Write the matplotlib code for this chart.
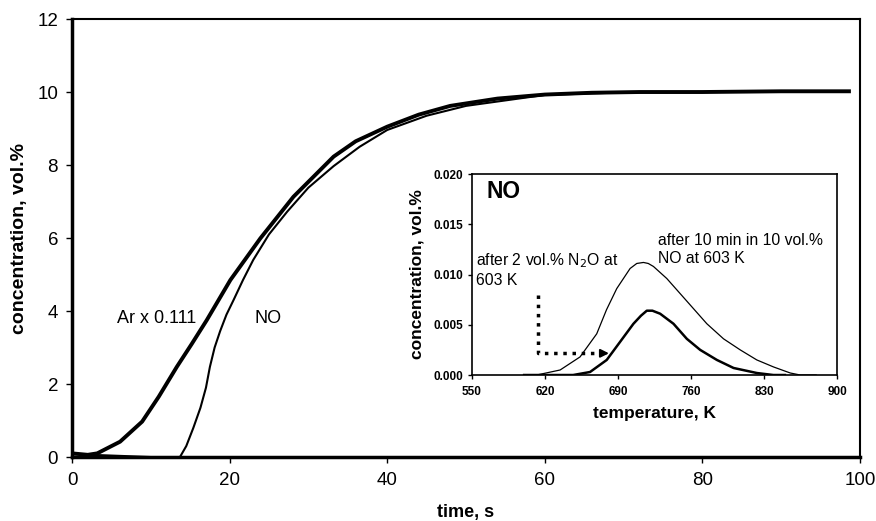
import numpy as np
import matplotlib
matplotlib.use("Agg")
import matplotlib.pyplot as plt

plt.rcParams['font.family'] = ['Liberation Sans', 'DejaVu Sans']

# main plot: time (s) vs concentration (vol.%)
ar_t = [0, 2, 3.2, 6.1, 8.9, 11, 13.3, 15.2, 17.1, 20.1, 23.9, 28.1, 33.2, 36, 40, 44, 48, 54, 60, 66, 72, 80, 90, 98.6]
ar_c = [0.1, 0.06, 0.1, 0.42, 0.97, 1.65, 2.47, 3.1, 3.75, 4.85, 5.99, 7.13, 8.23, 8.65, 9.05, 9.38, 9.62, 9.82, 9.93, 9.98, 10.0, 10.0, 10.02, 10.02]

no_t = [0, 5, 10, 13.7, 14.5, 15.4, 16.3, 17.0, 17.5, 18.1, 18.8, 19.6, 20.5, 21.7, 23.0, 25.0, 27.3, 30.0, 33.2, 36.5, 40, 45, 50, 60, 70, 80, 90, 98.6]
no_c = [0.08, 0.04, 0.0, 0.0, 0.3, 0.8, 1.35, 1.9, 2.47, 3.0, 3.45, 3.9, 4.3, 4.85, 5.4, 6.1, 6.72, 7.38, 7.97, 8.5, 8.96, 9.35, 9.62, 9.92, 9.99, 10.0, 10.02, 10.02]

# inset: TPD of NO
t1 = [600, 612, 634.5, 653.6, 669.6, 679, 688.8, 701.6, 708, 714.4, 719, 724, 736.8, 749.6, 762.4, 775.2, 791.2, 807.2, 823.1, 839.2, 855.2, 864.8, 880]
c1 = [0, 0, 0.0005, 0.0018, 0.0041, 0.0065, 0.0086, 0.0106, 0.0111, 0.0112, 0.0111, 0.0108, 0.0096, 0.0081, 0.0066, 0.0051, 0.0036, 0.0025, 0.0015, 0.0008, 0.0002, 0, 0]

t2 = [600, 647, 663.2, 679.2, 692, 704.8, 712, 717.6, 723, 730.4, 743.2, 756, 768.8, 784.8, 800.8, 823.1, 839, 850]
c2 = [0, 0, 0.0003, 0.0015, 0.0033, 0.0051, 0.0059, 0.0064, 0.0064, 0.0061, 0.0051, 0.0036, 0.0025, 0.0015, 0.0007, 0.0002, 0, 0]

fig = plt.figure(figsize=(8.76, 5.21), dpi=100)
ax = fig.add_axes([0.0822, 0.1228, 0.8995, 0.8407])
ax.plot(ar_t, ar_c, color='black', lw=2.8)
ax.plot(no_t, no_c, color='black', lw=1.5)
ax.set_xlim(0, 100)
ax.set_ylim(0, 12)
ax.set_xticks([0, 20, 40, 60, 80, 100])
ax.set_yticks([0, 2, 4, 6, 8, 10, 12])
ax.tick_params(labelsize=13.5, length=4, width=1, direction='out')
ax.tick_params(axis='x', pad=7)
ax.tick_params(axis='y', pad=6)
for s in ['left', 'bottom']:
    ax.spines[s].set_linewidth(2.5)
for s in ['top', 'right']:
    ax.spines[s].set_linewidth(1.5)
ax.set_xlabel('time, s', fontsize=13, fontweight='bold')
ax.xaxis.set_label_coords(0.5, -0.108)
ax.set_ylabel('concentration, vol.%', fontsize=14, fontweight='bold')
ax.yaxis.set_label_coords(-0.056, 0.5)
ax.text(5.7, 3.8, 'Ar x 0.111', fontsize=13, va='center')
ax.text(23.2, 3.8, 'NO', fontsize=13, va='center')

ins = fig.add_axes([0.5388, 0.2802, 0.4167, 0.3858])
ins.plot(t1, c1, color='black', lw=0.9)
ins.plot(t2, c2, color='black', lw=1.8)
ins.set_xlim(550, 900)
ins.set_ylim(0, 0.02)
ins.set_xticks([550, 620, 690, 760, 830, 900])
ins.set_yticks([0, 0.005, 0.01, 0.015, 0.02])
ins.set_yticklabels(['0.000', '0.005', '0.010', '0.015', '0.020'])
ins.tick_params(labelsize=8.5, length=3, width=1, direction='out')
ins.tick_params(axis='x', pad=5)
for lab in ins.get_xticklabels() + ins.get_yticklabels():
    lab.set_fontweight('bold')
for s in ins.spines.values():
    s.set_linewidth(1.2)
ins.set_xlabel('temperature, K', fontsize=12.5, fontweight='bold', labelpad=6)
ins.set_ylabel('concentration, vol.%', fontsize=12.5, fontweight='bold', labelpad=6)
ins.text(564, 0.0194, 'NO', fontsize=16.5, fontweight='bold', va='top')
ins.text(553.5, 0.0123, 'after 2 vol.% N$_2$O at\n603 K', fontsize=11.3, va='top', linespacing=1.25)
ins.text(728.5, 0.0141, 'after 10 min in 10 vol.%\nNO at 603 K', fontsize=11.3, va='top', linespacing=1.25)
ins.plot([613.7, 613.7, 676], [0.008, 0.00216, 0.00216], color='black', lw=2.5, ls=':')
ins.annotate('', xy=(684, 0.00216), xytext=(672, 0.00216),
             arrowprops=dict(arrowstyle='-|>', color='black', lw=1.5, mutation_scale=12))

fig.savefig('out.png', dpi=100)
